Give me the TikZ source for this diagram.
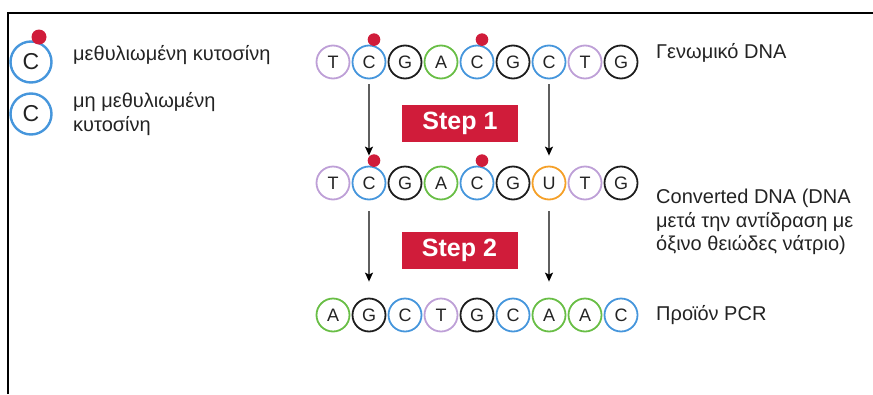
\documentclass[tikz,border=0pt]{standalone}
\usepackage{fontspec}
\setmainfont{Liberation Sans}
\usetikzlibrary{arrows.meta}
\definecolor{baseT}{RGB}{190, 160, 215}
\definecolor{baseC}{RGB}{70, 150, 220}
\definecolor{baseG}{RGB}{30, 30, 30}
\definecolor{baseA}{RGB}{105, 190, 70}
\definecolor{baseU}{RGB}{245, 160, 40}
\definecolor{mred}{RGB}{208, 28, 58}
\definecolor{txtdark}{RGB}{35, 35, 35}
\definecolor{arrgray}{RGB}{95, 95, 95}

\begin{document}
\begin{tikzpicture}[x=1pt, y=-1pt,
    base/.style={circle, draw=base#1, line width=1.8pt, minimum size=33pt, inner sep=0pt,
      text=txtdark, font=\fontsize{18}{18}\selectfont},
    legendbase/.style={circle, draw=baseC, line width=2.4pt, minimum size=41pt, inner sep=0pt,
      text=txtdark, font=\fontsize{23}{23}\selectfont},
    lbl/.style={anchor=west, inner sep=0pt, align=left, text=txtdark,
      font=\fontsize{20}{23.5}\selectfont},
    stepbox/.style={fill=mred, text=white, minimum width=116pt, minimum height=37pt,
      inner sep=0pt, font=\bfseries\fontsize{25}{25}\selectfont},
    conv/.style={draw=arrgray, line width=1.2pt, -{Stealth[length=9pt, width=8pt, inset=2pt, black]}}]
    \useasboundingbox (0,0) rectangle (873,394);

    % Plaisio
    \draw[line width=2pt] (8,394) -- (8,13) -- (873,13);

    % Ypomnima
    \node[legendbase] (lc1) at (31,62) {C};
    \fill[mred] (39,37) circle (7.5);
    \node[lbl] (lt1) at (73,55) {μεθυλιωμένη κυτοσίνη};
    \node[legendbase] (lc2) at (31,114) {C};
    \node[lbl] (lt2) at (73,114) {μη μεθυλιωμένη\\κυτοσίνη};

    % Genomiko DNA
    \foreach \b [count=\i] in {T,C,G,A,C,G,C,T,G}
      \node[base=\b] (g\i) at ({297+36*\i}, 62) {\b};
    \node[lbl] (gl) at (656,53) {Γενωμικό DNA};

    % Converted DNA
    \foreach \b [count=\i] in {T,C,G,A,C,G,U,T,G}
      \node[base=\b] (c\i) at ({297+36*\i}, 183) {\b};
    \node[lbl] (cl) at (656,222) {Converted DNA (DNA\\μετά την αντίδραση με\\όξινο θειώδες νάτριο)};

    % Proion PCR
    \foreach \b [count=\i] in {A,G,C,T,G,C,A,A,C}
      \node[base=\b] (p\i) at ({297+36*\i}, 315) {\b};
    \node[lbl] (pl) at (656,315) {Προϊόν PCR};

    % Methylomenes kytosines
    \foreach \n in {g2,g5,c2,c5}
      \fill[mred] (\n.north) ++(5,-5) circle (6.3);

    % Vimata
    \node[stepbox] (s1) at (460,123.5) {Step 1};
    \node[stepbox] (s2) at (459.5,250) {Step 2};

    % Velh
    \draw[conv, shorten <=5pt, shorten >=10pt] (g2) -- (c2);
    \draw[conv, shorten <=5pt, shorten >=10pt] (g7) -- (c7);
    \draw[conv, shorten <=11pt, shorten >=16pt] (c2) -- (p2);
    \draw[conv, shorten <=11pt, shorten >=16pt] (c7) -- (p7);
\end{tikzpicture}
\end{document}
